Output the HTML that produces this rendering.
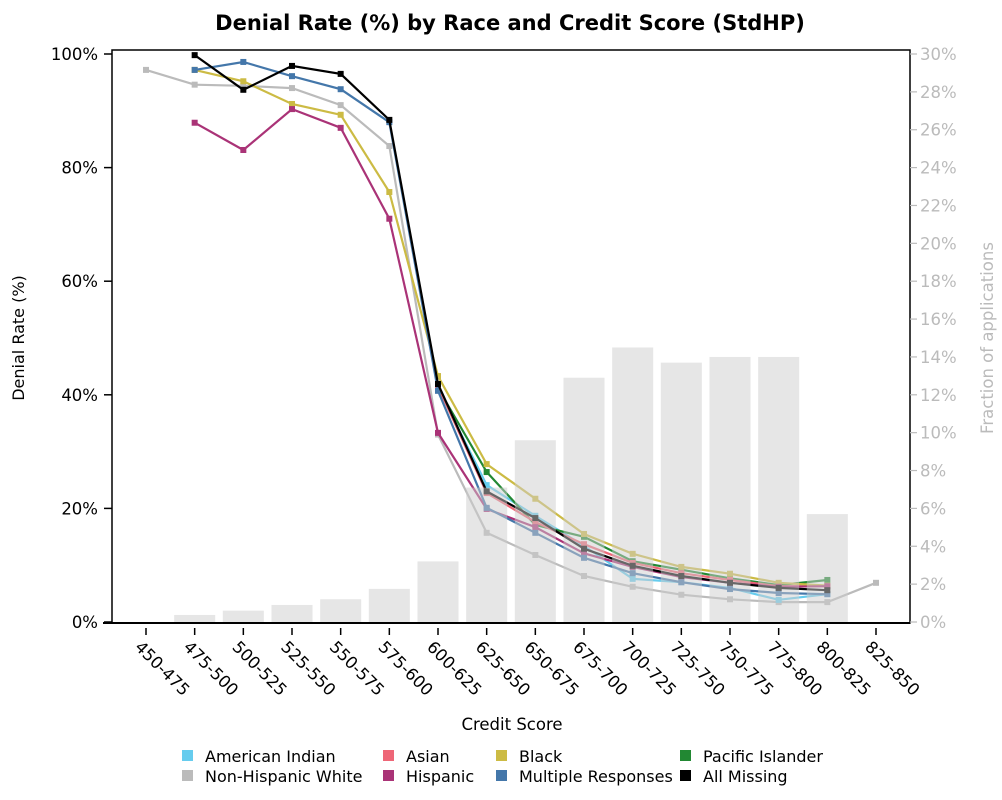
<!DOCTYPE html>
<html><head><meta charset="utf-8">
<style>
body{margin:0;background:#fff;font-family:"Liberation Sans","DejaVu Sans",sans-serif;}
svg text{font-family:"DejaVu Sans","Liberation Sans",sans-serif;}
</style></head>
<body>
<svg id="chart" width="1002" height="795" viewBox="0 0 1002 795" xmlns="http://www.w3.org/2000/svg">
<text x="510" y="30" text-anchor="middle" font-size="21" font-weight="bold" fill="#000">Denial Rate (%) by Race and Credit Score (StdHP)</text>
<text transform="translate(24,338) rotate(-90)" text-anchor="middle" font-size="16" fill="#000">Denial Rate (%)</text>
<text transform="translate(993,338) rotate(-90)" text-anchor="middle" font-size="16.5" fill="#bbb">Fraction of applications</text>
<text x="512" y="730" text-anchor="middle" font-size="16.5" fill="#000">Credit Score</text>
<g id="plot"></g>
<g id="legend"></g>
</svg>
<script>
const categories=["450-475","475-500","500-525","525-550","550-575","575-600","600-625","625-650","650-675","675-700","700-725","725-750","750-775","775-800","800-825","825-850"];
const fractionShare=[null,0.37,0.6,0.9,1.2,1.75,3.2,7.1,9.6,12.9,14.5,13.7,14.0,14.0,5.7,null];
const americanIndian=[null,null,null,null,null,null,41.2,24.1,18.7,13.4,7.6,7.0,6.0,3.9,4.9,null];
const nonHispanicWhite=[97.2,94.6,94.4,94.0,91.0,83.8,33.0,15.7,11.8,8.1,6.2,4.8,4.0,3.5,3.5,6.9];
const asian=[null,null,null,null,null,null,41.5,22.7,17.6,13.7,10.4,8.6,7.4,6.3,6.3,null];
const hispanic=[null,87.9,83.1,90.3,87.0,71.0,33.3,19.9,16.7,12.1,9.7,7.9,6.9,6.2,6.3,null];
const blackRace=[null,97.2,95.2,91.2,89.3,75.7,43.3,27.8,21.7,15.5,12.0,9.7,8.5,6.9,6.4,null];
const multipleResponses=[null,97.2,98.6,96.1,93.8,88.0,40.7,20.1,15.7,11.3,8.6,7.0,5.8,5.1,4.9,null];
const pacificIslander=[null,null,null,null,null,null,41.2,26.4,17.1,15.0,10.7,9.2,7.7,6.5,7.4,null];
const allMissing=[null,99.8,93.7,97.9,96.5,88.4,41.9,23.0,18.3,12.9,9.9,8.1,6.9,6.0,5.6,null];
const leftTicks=["0%","20%","40%","60%","80%","100%"];
const leftTickValues=[0,20,40,60,80,100];
const rightTickValues=[0,2,4,6,8,10,12,14,16,18,20,22,24,26,28,30];

const NS="http://www.w3.org/2000/svg";
const X0=112,X1=910,Y0=50,YB=622;
function xPos(i){return 146+i*(876-146)/15;}
function yLeft(v){return YB-v*5.68;}
function yRight(v){return YB-v*(568/30);}
function mk(tag,attrs,parent){const e=document.createElementNS(NS,tag);for(const k in attrs)e.setAttribute(k,attrs[k]);parent.appendChild(e);return e;}
const plot=document.getElementById('plot');

const seriesList=[
 {name:"american-indian",label:"American Indian",color:"#66CCEE",data:americanIndian},
 {name:"non-hispanic-white",label:"Non-Hispanic White",color:"#BBBBBB",data:nonHispanicWhite},
 {name:"asian",label:"Asian",color:"#EE6677",data:asian},
 {name:"hispanic",label:"Hispanic",color:"#AA3377",data:hispanic},
 {name:"black",label:"Black",color:"#CCBB44",data:blackRace},
 {name:"multiple-responses",label:"Multiple Responses",color:"#4477AA",data:multipleResponses},
 {name:"pacific-islander",label:"Pacific Islander",color:"#228833",data:pacificIslander},
 {name:"all-missing",label:"All Missing",color:"#000000",data:allMissing}
];
const drawOrder=[1,0,6,2,4,3,5,7];
drawOrder.forEach(si=>{
 const s=seriesList[si];
 const g=mk('g',{},plot);
 
 
 let pts=[];
 s.data.forEach((v,i)=>{if(v!==null)pts.push(xPos(i).toFixed(1)+','+yLeft(v).toFixed(1));});
 const pl=mk('polyline',{points:pts.join(' '),fill:'none',stroke:s.color,'stroke-width':2.2},g);
 
 
 s.data.forEach((v,i)=>{if(v===null)return;
  const r=mk('rect',{x:xPos(i)-3,y:yLeft(v)-3,width:6,height:6,fill:s.color},g);
  
  
 });
});
fractionShare.forEach((v,i)=>{if(v===null)return;
 const r=mk('rect',{x:xPos(i)-20.5,y:yRight(v),width:41,height:YB-yRight(v),fill:'rgba(205,205,205,0.5)'},plot);
 
 
});
const frame=mk('rect',{x:X0,y:Y0,width:X1-X0,height:YB+1-Y0,fill:'none',stroke:'#000','stroke-width':1.5},plot);


const xl=mk('line',{x1:103,x2:X1,y1:YB+1,y2:YB+1,stroke:'#000','stroke-width':2},plot);


leftTickValues.forEach((v,i)=>{
 const y=yLeft(v);
 mk('line',{x1:104,x2:X0,y1:y,y2:y,stroke:'#000','stroke-width':1.5},plot);
 const t=mk('text',{x:98,y:y+6,'text-anchor':'end','font-size':16.5,fill:'#000'},plot);
 t.textContent=leftTicks[i];
 
 
});
rightTickValues.forEach(v=>{
 const y=yRight(v);
 mk('line',{x1:X1,x2:X1+7,y1:y,y2:y,stroke:'#bbb','stroke-width':1.2},plot);
 const t=mk('text',{x:920,y:y+6,'font-size':16.5,fill:'#bbb'},plot);
 t.textContent=v+'%';
 
 
});
categories.forEach((c,i)=>{
 const x=xPos(i);
 mk('line',{x1:x,x2:x,y1:628,y2:635,stroke:'#000','stroke-width':1.5},plot);
 const t=mk('text',{transform:'translate('+(x-12)+',648) rotate(45)','font-size':16.5,fill:'#000'},plot);
 t.textContent=c;
 
 
});
const leg=document.getElementById('legend');
const legPos=[[182,762],[182,782],[383,762],[383,782],[496,762],[496,782],[680,762],[680,782]];
seriesList.forEach((s,i)=>{
 const [lx,ly]=legPos[i];
 const g=mk('g',{},leg);
 
 
 mk('rect',{x:lx,y:ly-12,width:11,height:11,fill:s.color},g);
 const t=mk('text',{x:lx+23,y:ly,'font-size':16,fill:'#000'},g);
 t.textContent=s.label;
});
</script>
</body></html>
